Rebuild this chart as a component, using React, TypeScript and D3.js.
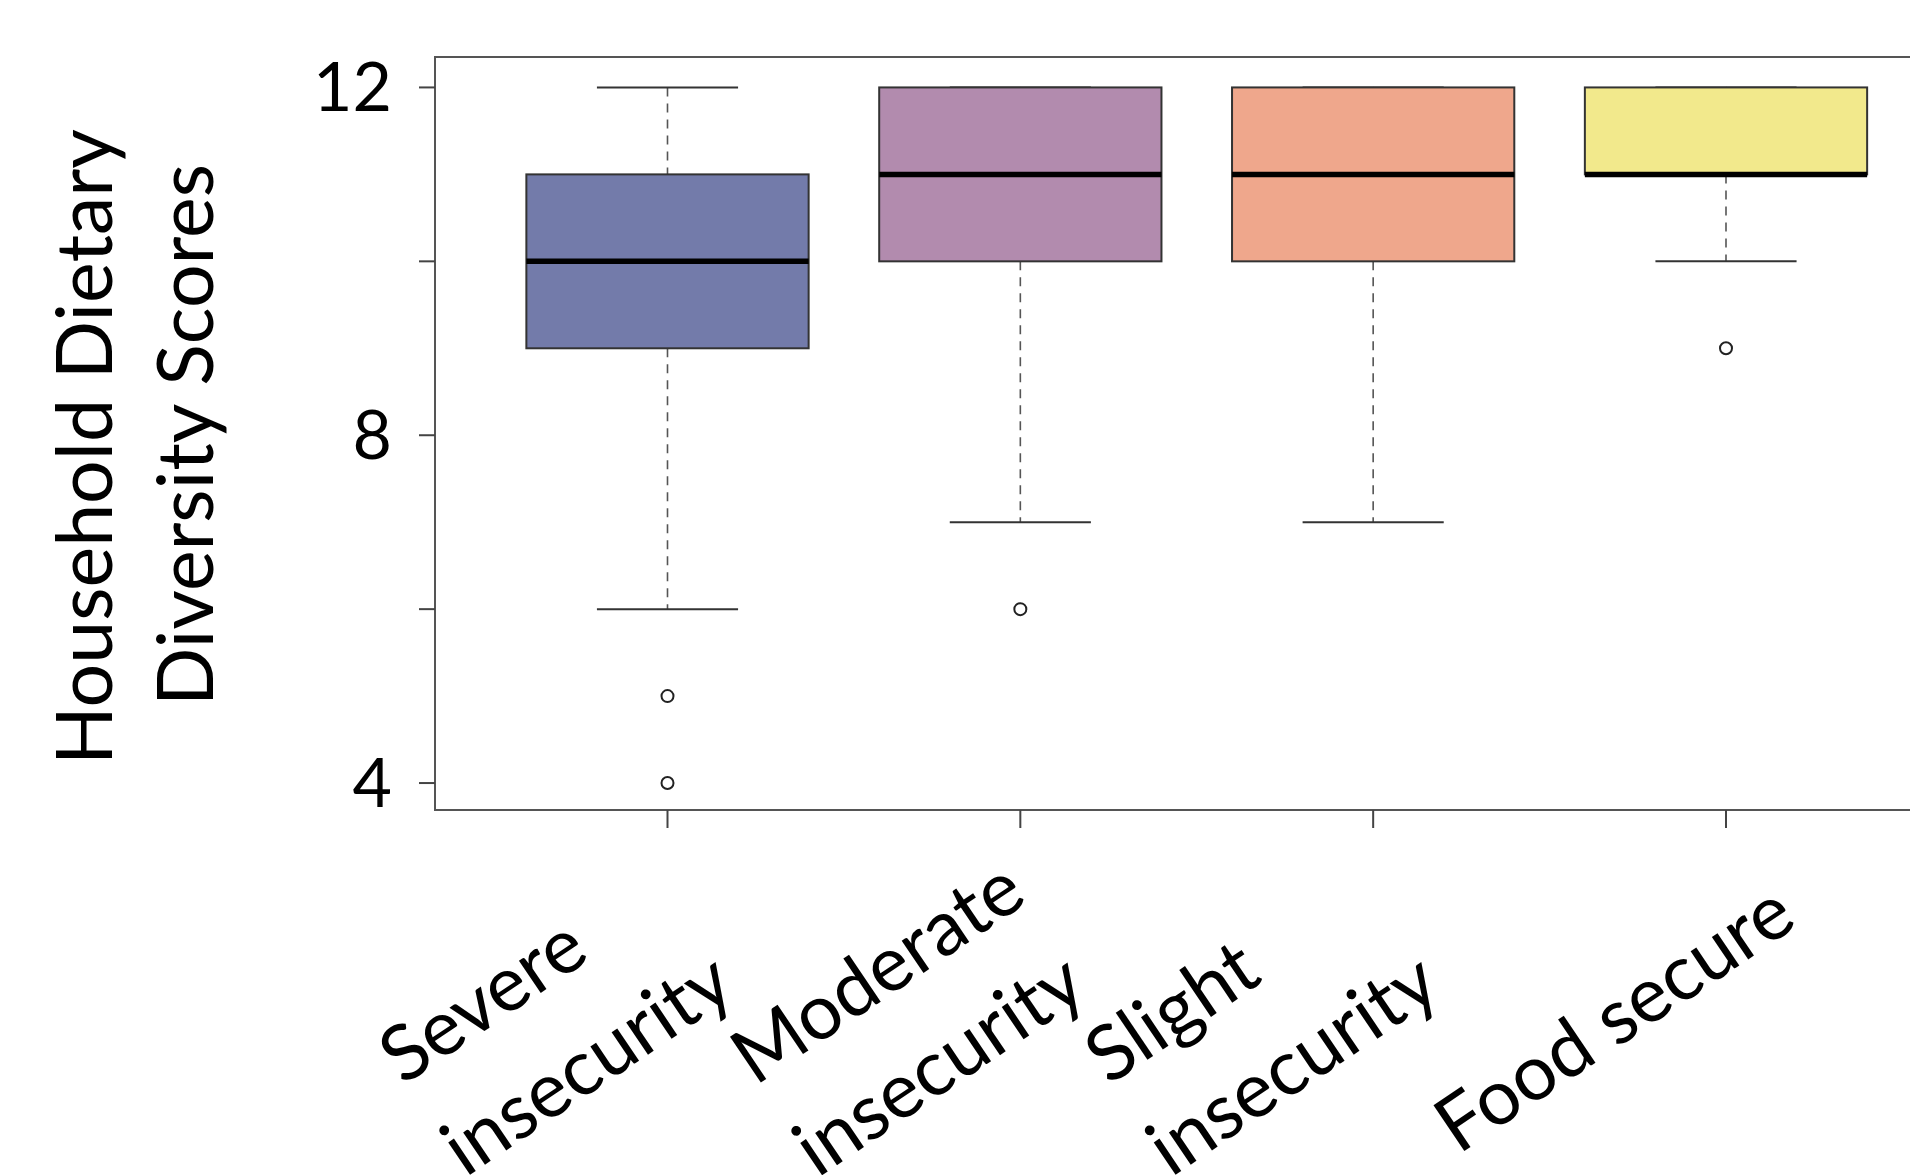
import * as d3 from 'd3';

// Box plot values
const categories = [['Severe', 'insecurity'], ['Moderate', 'insecurity'], ['Slight', 'insecurity'], ['Food secure']];
const whiskerLow = [6, 7, 7, 10];
const q1 = [9, 10, 10, 11];
const median = [10, 11, 11, 11];
const q3 = [11, 12, 12, 12];
const whiskerHigh = [12, 12, 12, 12];
const outliers = [[5, 4], [6], [], [9]];
const fills = ['#737BAA', '#B28BAE', '#EFA78C', '#F2E98C'];
const yTicks = [4, 6, 8, 10, 12];
const yTickLabels = ['4', '', '8', '', '12'];
const yTitle = ['Household Dietary', 'Diversity Scores'];

const width = 1910;
const height = 1175;
const font = 'Lato, "Open Sans", sans-serif';
const labelSize = 77;
const labelGap = 111;

// width of a label line, so the lines of a block can share a left edge
const measure = (s: string) => {
  const ctx = document.createElement('canvas').getContext('2d');
  if (!ctx) return s.length * labelSize * 0.5;
  ctx.font = `${labelSize}px Lato`;
  return ctx.measureText(s).width;
};

const App = () => {
  const plot = {left: 435, top: 57, bottom: 810};

  const yScale = d3.scaleLinear().domain([3.69, 12.35]).range([plot.bottom, plot.top]);
  const xScale = d3.scaleLinear().domain([1, 4]).range([667.5, 1726]);
  const right = xScale(4.66);

  const boxW = xScale(1.8) - xScale(1);
  const capW = boxW / 2;

  return (
    <svg width={width} height={height} style={{position: 'absolute', left: 0, top: 0, background: '#fff'}}>
      {/* plot frame */}
      <rect x={plot.left} y={plot.top} width={right - plot.left} height={plot.bottom - plot.top}
        fill="none" stroke="#555" strokeWidth={2} />

      {/* y axis ticks */}
      {yTicks.map((t, i) => (
        <g key={t}>
          <line x1={plot.left - 16} x2={plot.left} y1={yScale(t)} y2={yScale(t)} stroke="#444" strokeWidth={2} />
          <text x={plot.left - 43} y={yScale(t)} dy="0.35em" textAnchor="end"
            fontFamily={font} fontSize={68} fill="#000">{yTickLabels[i]}</text>
        </g>
      ))}

      {/* y title */}
      {yTitle.map((line, i) => (
        <text key={line} transform={`translate(${112 + i * 101}, ${447 - i * 12}) rotate(-90)`}
          textAnchor="middle" fontFamily={font} fontSize={77} fill="#000">{line}</text>
      ))}

      {/* boxes */}
      {categories.map((c, i) => {
        const cx = xScale(i + 1);
        const blockW = d3.max(c, measure) || 0;
        return (
          <g key={i}>
            <line x1={cx} x2={cx} y1={yScale(whiskerHigh[i])} y2={yScale(q3[i])}
              stroke="#555" strokeWidth={1.6} strokeDasharray="9,7" />
            <line x1={cx} x2={cx} y1={yScale(q1[i])} y2={yScale(whiskerLow[i])}
              stroke="#555" strokeWidth={1.6} strokeDasharray="9,7" />
            <line x1={cx - capW / 2} x2={cx + capW / 2} y1={yScale(whiskerHigh[i])} y2={yScale(whiskerHigh[i])}
              stroke="#333" strokeWidth={2} />
            <line x1={cx - capW / 2} x2={cx + capW / 2} y1={yScale(whiskerLow[i])} y2={yScale(whiskerLow[i])}
              stroke="#333" strokeWidth={2} />
            <rect x={cx - boxW / 2} y={yScale(q3[i])} width={boxW} height={yScale(q1[i]) - yScale(q3[i])}
              fill={fills[i]} stroke="#333" strokeWidth={2} />
            <line x1={cx - boxW / 2} x2={cx + boxW / 2} y1={yScale(median[i])} y2={yScale(median[i])}
              stroke="#000" strokeWidth={5.5} />
            {outliers[i].map(o => (
              <circle key={o} cx={cx} cy={yScale(o)} r={6} fill="none" stroke="#222" strokeWidth={2} />
            ))}
            {/* x tick */}
            <line x1={cx} x2={cx} y1={plot.bottom} y2={plot.bottom + 18} stroke="#444" strokeWidth={2} />
            {/* rotated label: left-aligned lines, block centred under the tick */}
            <g transform={`translate(${cx - 97}, 1040) rotate(-34)`}>
              {c.map((line, j) => (
                <text key={line} x={-blockW / 2} y={(j - (c.length - 1) / 2) * labelGap} textAnchor="start"
                  fontFamily={font} fontSize={labelSize} fill="#000">{line}</text>
              ))}
            </g>
          </g>
        );
      })}
    </svg>
  );
};

export default App;
